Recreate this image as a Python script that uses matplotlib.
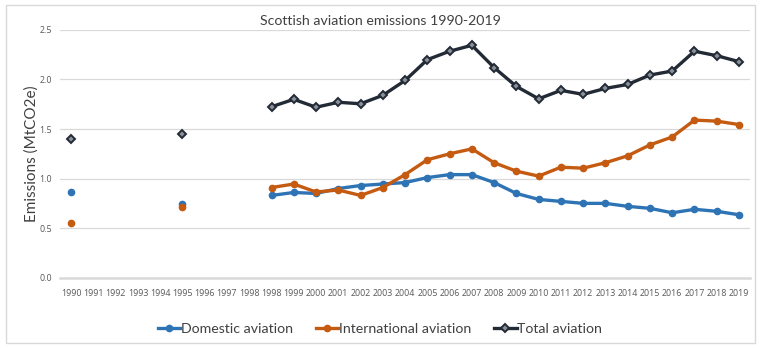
import numpy as np
import matplotlib
matplotlib.use("Agg")
import matplotlib.pyplot as plt
from matplotlib.patches import Rectangle

plt.rcParams['font.family'] = ['Lato', 'DejaVu Sans']

# category labels as on the original axis (1998 appears twice)
years = ['1990', '1991', '1992', '1993', '1994', '1995', '1996', '1997', '1998',
         '1998', '1999', '2000', '2001', '2002', '2003', '2004', '2005', '2006',
         '2007', '2008', '2009', '2010', '2011', '2012', '2013', '2014', '2015',
         '2016', '2017', '2018', '2019']

nan = np.nan
domestic = [0.86, nan, nan, nan, nan, 0.74, nan, nan, nan,
            0.83, 0.86, 0.85, 0.90, 0.93, 0.945, 0.96, 1.01, 1.04,
            1.04, 0.96, 0.85, 0.79, 0.77, 0.75, 0.75, 0.72, 0.70,
            0.655, 0.69, 0.67, 0.635]
international = [0.55, nan, nan, nan, nan, 0.71, nan, nan, nan,
                 0.91, 0.945, 0.865, 0.885, 0.83, 0.91, 1.04, 1.19, 1.25,
                 1.30, 1.16, 1.075, 1.025, 1.115, 1.105, 1.16, 1.23, 1.34,
                 1.42, 1.59, 1.58, 1.545]
total = [1.40, nan, nan, nan, nan, 1.45, nan, nan, nan,
         1.725, 1.80, 1.72, 1.77, 1.755, 1.84, 1.99, 2.20, 2.285,
         2.345, 2.12, 1.93, 1.805, 1.89, 1.85, 1.91, 1.95, 2.045,
         2.085, 2.285, 2.24, 2.18]

c_dom = '#2E74B5'
c_int = '#C55A11'
c_tot = '#222A35'

fig = plt.figure(figsize=(7.6, 3.48), dpi=100)
ax = fig.add_axes([0.079, 0.202, 0.908, 0.712])

x = np.arange(len(years))
ax.plot(x, domestic, color=c_dom, lw=2.4, marker='o', ms=4.5, label='Domestic aviation')
ax.plot(x, international, color=c_int, lw=2.4, marker='o', ms=4.5, label='International aviation')
ax.plot(x, total, color=c_tot, lw=2.4, marker='D', ms=3.6, mfc='#8a909a', mec=c_tot, mew=1.4,
        label='Total aviation')

ax.set_xlim(-0.5, len(years) - 0.5)
ax.set_ylim(0, 2.5)
ax.set_yticks([0, 0.5, 1.0, 1.5, 2.0, 2.5])
ax.set_yticklabels(['0.0', '0.5', '1.0', '1.5', '2.0', '2.5'])
ax.set_xticks(x)
ax.set_xticklabels(years)
ax.tick_params(length=0, labelsize=6.4, colors='#595959', pad=8)
ax.tick_params(axis='y', pad=6)
for lab in ax.get_xticklabels() + ax.get_yticklabels():
    lab.set_family(['Open Sans', 'DejaVu Sans'])
ax.grid(axis='y', color='#D9D9D9', lw=0.9)
ax.set_axisbelow(True)
for s in ['top', 'right', 'left']:
    ax.spines[s].set_visible(False)
ax.spines['bottom'].set_color('#D9D9D9')
ax.spines['bottom'].set_linewidth(1.8)

ax.set_ylabel('Emissions (MtCO2e)', fontsize=11, color='#404040', labelpad=0)
fig.text(0.5, 1 - 21 / 348, 'Scottish aviation emissions 1990-2019', fontsize=10.2,
         color='#404040', ha='center', va='center')

fig.legend(loc='lower center', bbox_to_anchor=(0.5, 0.0), ncol=3, frameon=False,
           fontsize=10.2, handlelength=1.6, handletextpad=0.05, columnspacing=1.6,
           labelcolor='#404040')

fig.patches.append(Rectangle((6 / 760, 5 / 348), 749 / 760, 338 / 348, transform=fig.transFigure,
                             fill=False, edgecolor='#D9D9D9', lw=1))

fig.savefig('out.png', dpi=100)
